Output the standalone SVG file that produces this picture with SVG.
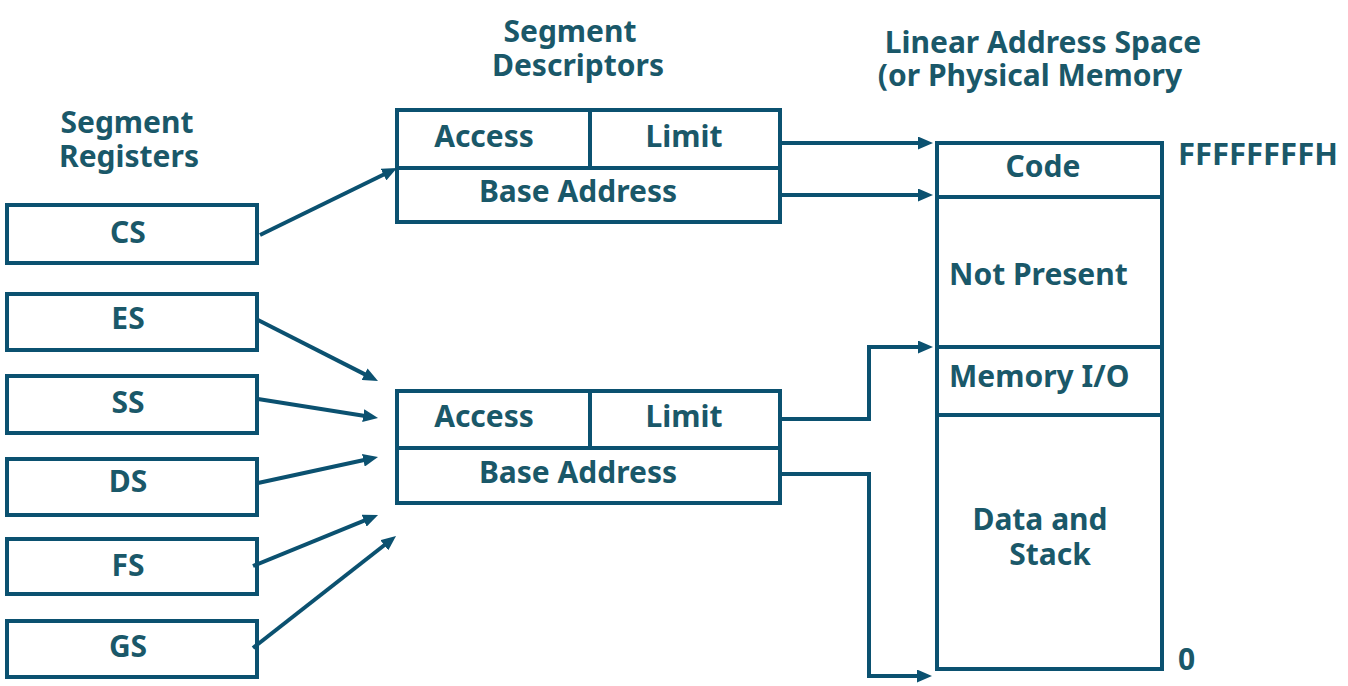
<svg xmlns="http://www.w3.org/2000/svg" width="1348" height="686" viewBox="0 0 1348 686">
<style>
.box{fill:#ffffff;stroke:#0b5170;stroke-width:4}
.ln{fill:none;stroke:#0b5170;stroke-width:4}
.t{font-family:"Noto Sans","Open Sans","DejaVu Sans",sans-serif;font-weight:bold;font-size:30px;fill:#1a5869}
.m{text-anchor:middle}
.c{stroke:#0b5170;stroke-width:4;fill:none;marker-end:url(#ah)}
</style>
<defs>
<marker id="ah" markerUnits="userSpaceOnUse" markerWidth="15" markerHeight="13" viewBox="0 0 15 13" refX="2" refY="6.5" orient="auto">
<path d="M0,0 L15,6.5 L0,13 Z" fill="#0b5170"/>
</marker>
</defs>
<rect width="1348" height="686" fill="#ffffff"/>

<g id="titles">
<text class="t m"><tspan x="127" y="133">Segment</tspan><tspan x="129" y="167">Registers</tspan></text>
<text class="t m"><tspan x="570" y="42">Segment</tspan><tspan x="578" y="76">Descriptors</tspan></text>
<text class="t m"><tspan x="1043" y="53">Linear Address Space</tspan><tspan x="1030" y="86">(or Physical Memory</tspan></text>
</g>

<g id="reg-cs"><rect class="box" x="7" y="205" width="250" height="58"/><text class="t m" x="128" y="243">CS</text></g>
<g id="reg-es"><rect class="box" x="7" y="294" width="250" height="56"/><text class="t m" x="128" y="329">ES</text></g>
<g id="reg-ss"><rect class="box" x="7" y="376" width="250" height="57"/><text class="t m" x="128" y="413">SS</text></g>
<g id="reg-ds"><rect class="box" x="7" y="459" width="250" height="56"/><text class="t m" x="128" y="492">DS</text></g>
<g id="reg-fs"><rect class="box" x="7" y="539" width="250" height="55"/><text class="t m" x="128" y="576">FS</text></g>
<g id="reg-gs"><rect class="box" x="7" y="621" width="250" height="56"/><text class="t m" x="128" y="657">GS</text></g>

<g id="desc1">
<rect class="box" x="397" y="110" width="383" height="112"/>
<line class="ln" x1="397" y1="168" x2="780" y2="168"/>
<line class="ln" x1="590" y1="110" x2="590" y2="168"/>
<text class="t m" x="484" y="147">Access</text>
<text class="t m" x="684" y="147">Limit</text>
<text class="t m" x="578" y="202">Base Address</text>
</g>

<g id="desc2">
<rect class="box" x="397" y="391" width="383" height="112"/>
<line class="ln" x1="397" y1="448" x2="780" y2="448"/>
<line class="ln" x1="590" y1="391" x2="590" y2="448"/>
<text class="t m" x="484" y="427">Access</text>
<text class="t m" x="684" y="427">Limit</text>
<text class="t m" x="578" y="483">Base Address</text>
</g>

<g id="memory">
<rect class="box" x="937" y="143" width="225" height="526"/>
<line class="ln" x1="937" y1="197" x2="1162" y2="197"/>
<line class="ln" x1="937" y1="347" x2="1162" y2="347"/>
<line class="ln" x1="937" y1="415" x2="1162" y2="415"/>
<text class="t m" x="1043" y="177">Code</text>
<text class="t" x="949" y="285">Not Present</text>
<text class="t" x="949" y="387">Memory I/O</text>
<text class="t m"><tspan x="1040" y="530">Data and</tspan><tspan x="1050" y="565">Stack</tspan></text>
</g>

<g id="addr-labels">
<text class="t" x="1178" y="165" style="font-size:31px">FFFFFFFFH</text>
<text class="t" x="1178" y="670">0</text>
</g>

<g id="connectors">
<line class="c" x1="260" y1="235" x2="385.3" y2="173.7"/>
<line class="c" x1="258" y1="320" x2="366.4" y2="375.1"/>
<line class="c" x1="258" y1="399" x2="365.2" y2="416"/>
<line class="c" x1="258" y1="483" x2="365.3" y2="459.8"/>
<line class="c" x1="253" y1="566" x2="366" y2="519.9"/>
<line class="c" x1="253" y1="648" x2="385.8" y2="544"/>
<path class="c" d="M780,143 H920"/>
<path class="c" d="M780,195 H920"/>
<path class="c" d="M780,419 H869 V347 H920"/>
<path class="c" d="M780,474 H869 V676 H919"/>
</g>
</svg>
